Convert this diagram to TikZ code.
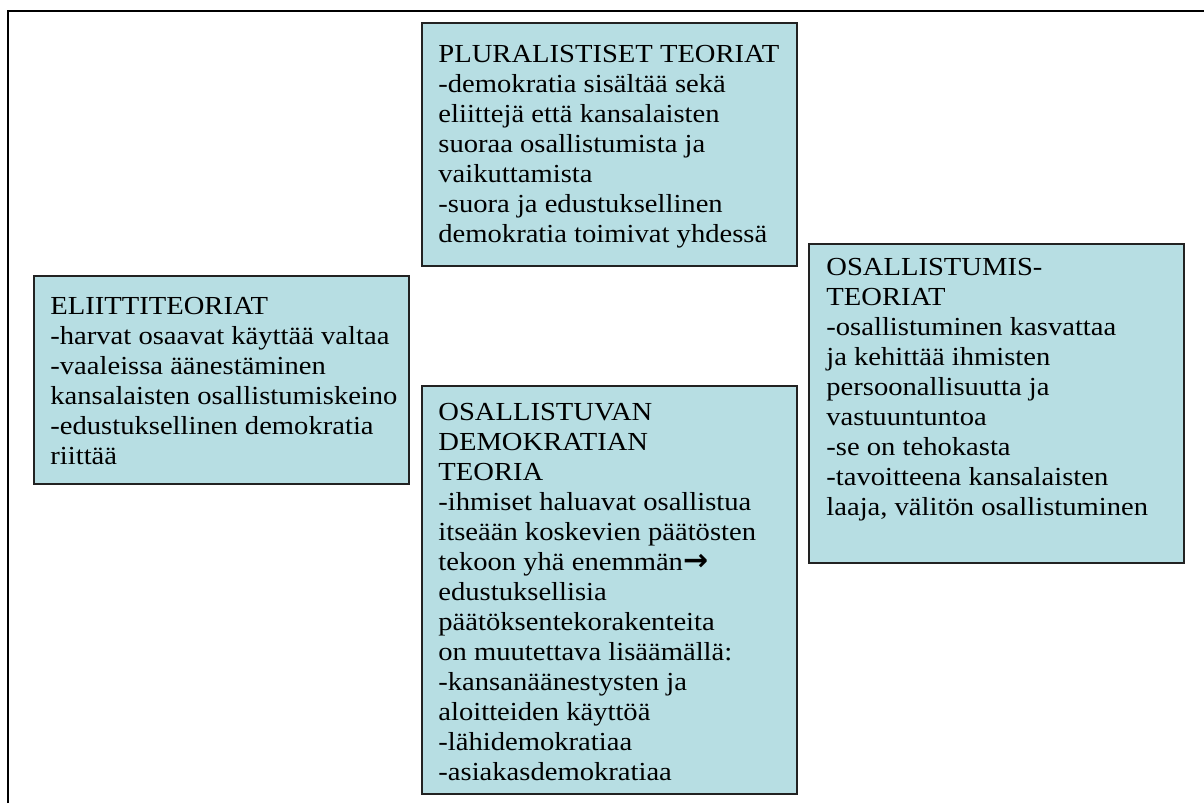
\documentclass[tikz,border=0pt]{standalone}
\usepackage{fontspec}
\setmainfont[FakeStretch=1.1]{Liberation Serif}
\newfontfamily\arrowfont{DejaVu Sans}
\definecolor{boxfill}{HTML}{B7DEE3}
\definecolor{boxline}{HTML}{222222}
\tikzset{
  theorybox/.style={rectangle, draw=boxline, line width=0.75pt, fill=boxfill,
    inner sep=0pt, anchor=north west, minimum width=187.5pt},
  boxtext/.style={inner sep=0pt, anchor=base west, font=\fontsize{13}{15}\selectfont},
  frameline/.style={line width=1pt, draw=black}
}
\begin{document}
\begin{tikzpicture}[x=1pt,y=1pt]
\useasboundingbox (0,0) rectangle (602,-401.5);
\coordinate (fbl) at (4,-401.5);
\coordinate (ftl) at (4,-5.5);
\coordinate (ftr) at (602,-5.5);
\draw[frameline] (fbl) -- (ftl) -- (ftr);

% PLURALISTISET TEORIAT
\node[theorybox, minimum height=121.5pt] (plur) at (210.5,-11) {};
\node[boxtext] (plurtxt) at (219,-31) {\begin{tabular}[t]{@{}l@{}}
PLURALISTISET TEORIAT\\
-demokratia sisältää sekä\\
eliittejä että kansalaisten\\
suoraa osallistumista ja\\
vaikuttamista\\
-suora ja edustuksellinen\\
demokratia toimivat yhdessä
\end{tabular}};

% ELIITTITEORIAT
\node[theorybox, minimum height=104pt] (elit) at (16.5,-137.5) {};
\node[boxtext] (elittxt) at (25,-157) {\begin{tabular}[t]{@{}l@{}}
ELIITTITEORIAT\\
-harvat osaavat käyttää valtaa\\
-vaaleissa äänestäminen\\
kansalaisten osallistumiskeino\\
-edustuksellinen demokratia\\
riittää
\end{tabular}};

% OSALLISTUMISTEORIAT
\node[theorybox, minimum height=159.5pt] (osat) at (404,-121.5) {};
\node[boxtext] (osattxt) at (413,-137.5) {\begin{tabular}[t]{@{}l@{}}
OSALLISTUMIS-\\
TEORIAT\\
-osallistuminen kasvattaa\\
ja kehittää ihmisten\\
persoonallisuutta ja\\
vastuuntuntoa\\
-se on tehokasta\\
-tavoitteena kansalaisten\\
laaja, välitön osallistuminen
\end{tabular}};

% OSALLISTUVAN DEMOKRATIAN TEORIA
\node[theorybox, minimum height=204pt] (osde) at (210.5,-192.5) {};
\node[boxtext] (osdetxt) at (219,-210) {\begin{tabular}[t]{@{}l@{}}
OSALLISTUVAN\\
DEMOKRATIAN\\
TEORIA\\
-ihmiset haluavat osallistua\\
itseään koskevien päätösten\\
tekoon yhä enemmän{\arrowfont\bfseries\fontsize{15}{15}\selectfont →}\\
edustuksellisia\\
päätöksentekorakenteita\\
on muutettava lisäämällä:\\
-kansanäänestysten ja\\
aloitteiden käyttöä\\
-lähidemokratiaa\\
-asiakasdemokratiaa
\end{tabular}};
\end{tikzpicture}
\end{document}
